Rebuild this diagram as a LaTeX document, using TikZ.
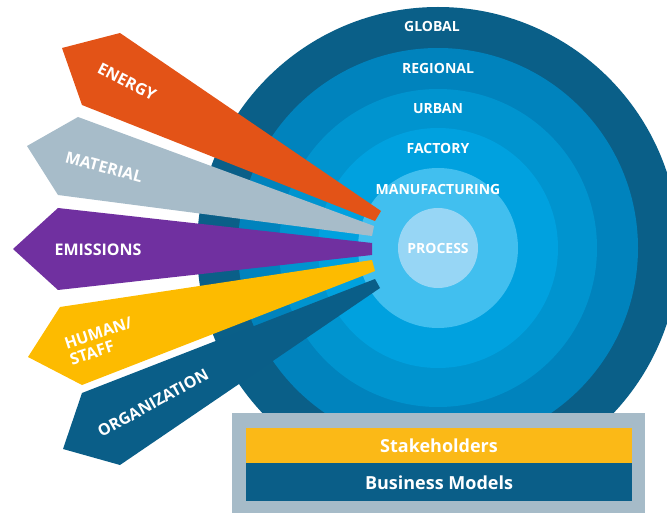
\documentclass[tikz,border=0pt]{standalone}
\usepackage{fontspec}
\setmainfont{Open Sans}
\usetikzlibrary{positioning}

\definecolor{globalblue}{HTML}{0A5F88}
\definecolor{regionalblue}{HTML}{0083BD}
\definecolor{urbanblue}{HTML}{0094CF}
\definecolor{factoryblue}{HTML}{00A1DF}
\definecolor{manufblue}{HTML}{41BFEF}
\definecolor{processblue}{HTML}{97D6F5}
\definecolor{energyorange}{HTML}{E35317}
\definecolor{materialgray}{HTML}{A7BCC9}
\definecolor{emissionpurple}{HTML}{7030A0}
\definecolor{humanyellow}{HTML}{FDBB00}
\definecolor{orgblue}{HTML}{0A5E88}
\definecolor{framegray}{HTML}{A6BBC8}
\definecolor{stakeyellow}{HTML}{FBB917}

\begin{document}
\begin{tikzpicture} [
        x = 1pt,
        y = -1pt,
        every node/.style = {
          text = white,
          font = \bfseries,
        },
        ring/.style = {
          circle,
          inner sep = 0pt,
          minimum size = #1,
        },
        ringlabel/.style = {
          font = \fontsize{14}{16}\selectfont\bfseries,
        },
        pencillabel/.style = {
          font = \fontsize{16}{17}\selectfont\bfseries,
          align = left,
        },
        bar/.style = {
          minimum width = 386pt,
          font = \fontsize{18}{20}\selectfont\bfseries,
          inner sep = 0pt,
        },
      ]

    \path[use as bounding box, clip] (0,0) rectangle (667,513);

    % levels, outside in
    \node [ring = 482pt, fill = globalblue] (global) at (438,248) {};
    \node [ring = 400pt, fill = regionalblue] (regional) at (global.center) {};
    \node [ring = 318pt, fill = urbanblue] (urban) at (global.center) {};
    \node [ring = 240pt, fill = factoryblue] (factory) at (global.center) {};
    \node [ring = 160pt, fill = manufblue] (manuf) at (global.center) {};
    \node [ring = 80pt, fill = processblue] (process) at (global.center) {};

    \node [ringlabel] at ([xshift=-6pt, yshift=-20pt]global.north) {GLOBAL};
    \node [ringlabel] at ([yshift=-21pt]regional.north) {REGIONAL};
    \node [ringlabel] at ([yshift=-20pt]urban.north) {URBAN};
    \node [ringlabel] at ([yshift=-21pt]factory.north) {FACTORY};
    \node [ringlabel] at ([yshift=-22pt]manuf.north) {MANUFACTURING};
    \node [ringlabel] at (process.center) {PROCESS};

    % pencils: tip, upper corner, narrow end, lower corner
    \fill[energyorange] (62,48) -- (120,33) -- (381,211) -- (375,221) -- (82,105) -- cycle;
    \fill[materialgray] (27,146) -- (78,117) -- (374,226) -- (372,236) -- (58,195) -- cycle;
    \fill[emissionpurple] (13,249) -- (58,208) -- (372,243) -- (372,255) -- (58,290) -- cycle;
    \fill[humanyellow] (28,357) -- (60,307) -- (372,260) -- (375,271) -- (82,385) -- cycle;
    \fill[orgblue] (63,449) -- (82,393) -- (375,279) -- (380,288) -- (120,465) -- cycle;

    \node [pencillabel, rotate = -27] (energy) at (127,82) {ENERGY};
    \node [pencillabel, rotate = -15] (material) at (104,167) {MATERIAL};
    \node [pencillabel] (emissions) at (98,250) {EMISSIONS};
    \node [pencillabel, rotate = 18] (human) at (101,341) {HUMAN/\\STAFF};
    \node [pencillabel, rotate = 29] (organization) at (153,403) {ORGANIZATION};

    % frame at the bottom
    \node [fill = framegray, minimum width = 413pt, minimum height = 100pt] (frame) at (438.5,463) {};
    \node [bar, fill = stakeyellow, minimum height = 35pt] (stake) at (439,445.5) {Stakeholders};
    \node [bar, fill = orgblue, minimum height = 38pt, below = 0pt of stake] (business) {Business Models};
  \end{tikzpicture}
\end{document}
